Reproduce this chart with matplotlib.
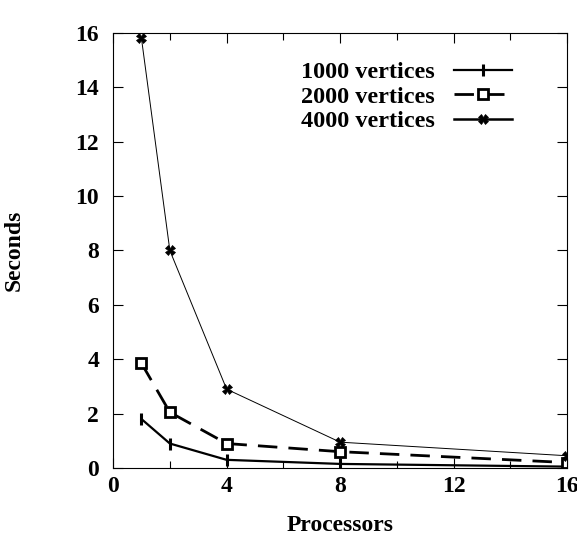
import numpy as np
import matplotlib.pyplot as plt

plt.rcParams['font.family'] = ['Liberation Serif', 'DejaVu Serif']
plt.rcParams['font.weight'] = 'bold'

processors = [1, 2, 4, 8, 16]
v1000 = [1.8, 0.9, 0.3, 0.15, 0.05]
v2000 = [3.85, 2.05, 0.9, 0.6, 0.2]
v4000 = [15.8, 8.0, 2.9, 0.95, 0.45]

fig = plt.figure(figsize=(5.77, 5.34), dpi=100)
ax = fig.add_axes([0.196, 0.1236, 0.787, 0.8146])

ax.plot(processors, v1000, color='black', lw=1.6, marker='|', ms=8, mew=2.2,
        label='1000 vertices')
ax.plot(processors, v2000, color='black', lw=2.0, ls=(0, (7, 4)), marker='s', ms=7,
        mfc='white', mew=2, label='2000 vertices')
ax.plot(processors, v4000, color='black', lw=0.7, marker='X', ms=7, mew=0.5,
        label='4000 vertices')

ax.set_xlim(0, 16)
ax.set_ylim(0, 16)
ax.set_xticks([0, 4, 8, 12, 16])
ax.set_xticks([2, 6, 10, 14], minor=True)
ax.set_yticks(np.arange(0, 17, 2))
ax.tick_params(direction='in', top=True, right=True, length=7, width=0.8, labelsize=17)
ax.tick_params(axis='y', pad=10)
ax.tick_params(axis='x', pad=6)
ax.tick_params(which='minor', direction='in', top=True, length=5, width=0.8)
for s in ax.spines.values():
    s.set_linewidth(0.8)

ax.set_xlabel('Processors', fontsize=17, fontweight='bold', va='top')
ax.set_ylabel('Seconds', fontsize=17, fontweight='bold')
ax.xaxis.set_label_coords(0.5, -0.108)
ax.yaxis.set_label_coords(-0.195, 0.5)

leg = ax.legend(loc='upper right', bbox_to_anchor=(0.879, 0.935), frameon=False,
                markerfirst=False, fontsize=17.5, handlelength=2.4,
                labelspacing=0.1, handletextpad=0.8, borderpad=0, borderaxespad=0)
for t in leg.get_texts():
    t.set_fontweight('bold')
leg.get_lines()[2].set_linewidth(1.8)

fig.savefig('out.png', dpi=100)
